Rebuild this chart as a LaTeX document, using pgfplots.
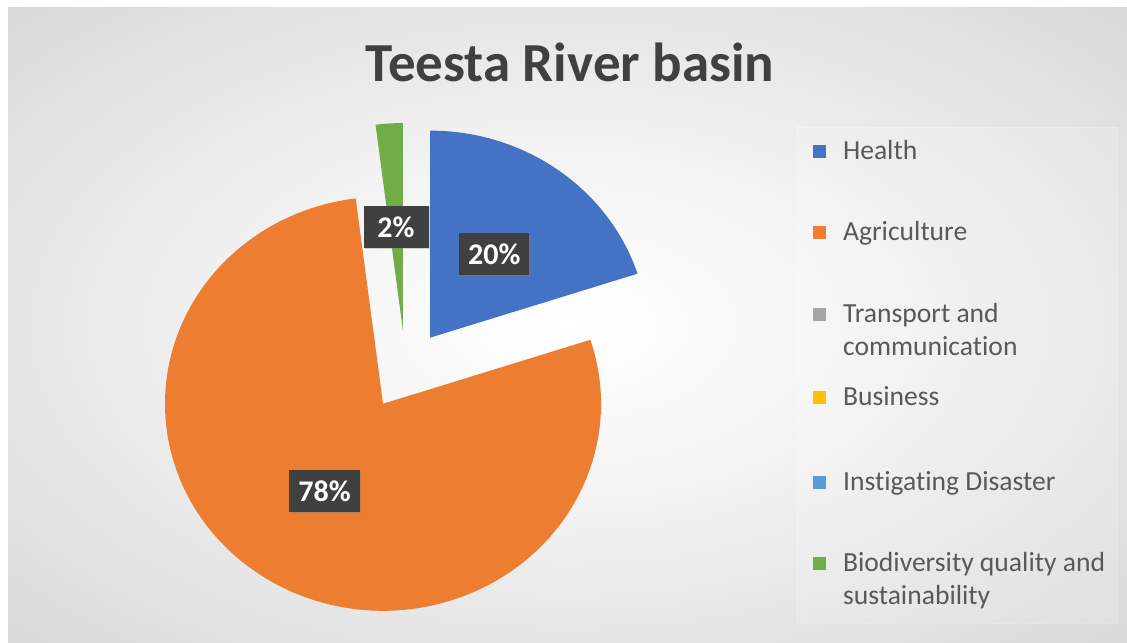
\documentclass[border=0pt]{standalone}
\usepackage{pgfplots}
\pgfplotsset{compat=1.18}
\usepackage{pgfplotstable}
\usepackage{fontspec}
\setmainfont{Carlito}[Ligatures=NoCommon]
\usetikzlibrary{shadows}

\definecolor{cHealth}{HTML}{4472C4}
\definecolor{cAgri}{HTML}{ED7D31}
\definecolor{cTrans}{HTML}{A5A5A5}
\definecolor{cBus}{HTML}{FFC000}
\definecolor{cDis}{HTML}{5B9BD5}
\definecolor{cBio}{HTML}{70AD47}
\definecolor{titlegray}{HTML}{404040}
\definecolor{legendgray}{HTML}{595959}
\definecolor{labelbox}{HTML}{404040}
\definecolor{bgmid}{HTML}{DCDCDC}
\definecolor{bgout}{HTML}{C6C6C6}

\pgfdeclareradialshading{chartbg}{\pgfpoint{0bp}{0bp}}{%
  color(0bp)=(white); color(12bp)=(white!96!black);
  color(33bp)=(bgmid); color(50bp)=(bgout)}

\tikzset{
  datalabel/.style={fill=labelbox, text=white,
    font=\fontsize{15}{18}\selectfont\bfseries,
    minimum height=21pt, minimum width=32.5pt, inner xsep=4.5pt,
    drop shadow={shadow xshift=0.8pt, shadow yshift=-0.8pt, opacity=0.35}},
  legtext/.style={anchor=base west, text=legendgray,
    font=\fontsize{13.8}{16.5}\selectfont},
  legmark/.style={inner sep=0pt, minimum size=6.5pt},
}

% slices, clockwise from 12 o'clock
\pgfplotstableread{
name value color
Health 20 cHealth
Agriculture 78 cAgri
Transport 0 cTrans
Business 0 cBus
Disaster 0 cDis
Biodiversity 2 cBio
}\piedata

% geometry in pixels (1 unit = 0.5pt)
\def\pieCx{405.5}
\def\pieCy{272}
\def\pieRx{218}
\def\pieRy{207}
\def\explode{40}
\def\stretch{1.05}

\gdef\pieDraws{}
\gdef\pieLabels{}
\gdef\curAngle{90}
\pgfplotstablegetrowsof{\piedata}
\pgfmathtruncatemacro\lastrow{\pgfplotsretval-1}
\foreach \i in {0,...,\lastrow}{%
  \pgfplotstablegetelem{\i}{value}\of\piedata \let\val\pgfplotsretval
  \pgfplotstablegetelem{\i}{color}\of\piedata \let\col\pgfplotsretval
  \pgfmathsetmacro\aS{\curAngle}
  \pgfmathsetmacro\aE{\curAngle-3.6*\val}
  \pgfmathsetmacro\aM{(\aS+\aE)/2}
  \pgfmathsetmacro\vx{\pieCx+\explode*\stretch*cos(\aM)}
  \pgfmathsetmacro\vy{\pieCy+\explode*sin(\aM)}
  \pgfmathsetmacro\px{\vx+\pieRx*cos(\aS)}
  \pgfmathsetmacro\py{\vy+\pieRy*sin(\aS)}
  \pgfmathsetmacro\lx{\vx+0.5*\pieRx*cos(\aM)}
  \pgfmathsetmacro\ly{\vy+0.5*\pieRy*sin(\aM)}
  \pgfmathsetmacro\rxpt{0.5*\pieRx}
  \pgfmathsetmacro\rypt{0.5*\pieRy}
  \ifdim\val pt>0pt
    \xdef\pieDraws{\unexpanded\expandafter{\pieDraws}%
      \noexpand\fill[\col] (axis cs:\vx,\vy) -- (axis cs:\px,\py)
      arc[start angle=\aS, end angle=\aE, x radius=\rxpt pt, y radius=\rypt pt] -- cycle;}
    \xdef\pieLabels{\unexpanded\expandafter{\pieLabels}%
      \noexpand\node[datalabel] at (axis cs:\lx,\ly) {\val\%};}
  \fi
  \xdef\curAngle{\aE}
}

\begin{document}
\begin{tikzpicture}
\begin{axis}[
    x=0.5pt, y=0.5pt,
    xmin=0, xmax=1127, ymin=0, ymax=642,
    hide axis, scale only axis, clip=false,
  ]
  % page strip and chart background
  \fill[white] (axis cs:0,0) rectangle (axis cs:1127,642);
  \shade[shading=chartbg] (axis cs:8,0) rectangle (axis cs:1127,634);

  % title
  \node[anchor=base, text=titlegray, font=\fontsize{27.5}{32}\selectfont\bfseries]
    at (axis cs:570,560) {Teesta River basin};

  % pie
  \pieDraws
  \pieLabels

  % legend
  \fill[white, opacity=0.15] (axis cs:797,19) rectangle (axis cs:1117,515);
  \draw[white, opacity=0.25] (axis cs:797,19) rectangle (axis cs:1117,515);
  \node[legmark, fill=cHealth] at (axis cs:819.5,490) {};
  \node[legtext] at (axis cs:836,482) {Health};
  \node[legmark, fill=cAgri] at (axis cs:819.5,409) {};
  \node[legtext] at (axis cs:836,401) {Agriculture};
  \node[legmark, fill=cTrans] at (axis cs:819.5,327) {};
  \node[legtext] at (axis cs:836,319) {Transport and};
  \node[legtext] at (axis cs:836,286) {communication};
  \node[legmark, fill=cBus] at (axis cs:819.5,244) {};
  \node[legtext] at (axis cs:836,236) {Business};
  \node[legmark, fill=cDis] at (axis cs:819.5,160) {};
  \node[legtext] at (axis cs:836,152) {Instigating Disaster};
  \node[legmark, fill=cBio] at (axis cs:819.5,79) {};
  \node[legtext] at (axis cs:836,71) {Biodiversity quality and};
  \node[legtext] at (axis cs:836,38) {sustainability};
\end{axis}
\end{tikzpicture}
\end{document}
